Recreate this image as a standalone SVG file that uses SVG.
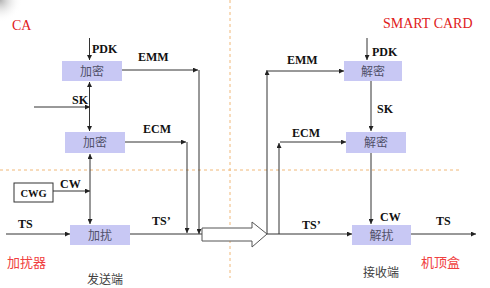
<svg xmlns="http://www.w3.org/2000/svg" width="490" height="288" viewBox="0 0 490 288">
<defs>
<marker id="ah" viewBox="0 0 10 10" refX="10" refY="5" markerWidth="6" markerHeight="5" markerUnits="userSpaceOnUse" orient="auto-start-reverse">
<path d="M0,0 L10,5 L0,10 z" fill="#222"/>
</marker>
<radialGradient id="corner" cx="0" cy="0" r="1">
<stop offset="0" stop-color="#b0b0b0"/>
<stop offset="1" stop-color="#ffffff" stop-opacity="0"/>
</radialGradient>
<style>
.box{fill:#c8c8f4;stroke:none}
.bt{font-family:"Noto Sans CJK SC",sans-serif;font-size:12px;fill:#505068;text-anchor:middle}
.lb{font-family:"Liberation Serif",serif;font-weight:bold;font-size:12px;fill:#111}
.red{font-family:"Liberation Serif",serif;font-size:14px;fill:#e02020}
.redc{font-family:"Noto Sans CJK SC",sans-serif;font-size:13px;fill:#f04040}
.gc{font-family:"Noto Sans CJK SC",sans-serif;font-size:12px;fill:#404040}
.ln{fill:none;stroke:#333;stroke-width:1}
.dash{fill:none;stroke:#f0b878;stroke-width:1;stroke-dasharray:3,3}
</style>
</defs>
<rect width="490" height="288" fill="#ffffff"/>
<rect x="0" y="0" width="22" height="22" fill="url(#corner)"/>
<g id="dividers">
<line class="dash" x1="230" y1="0" x2="230" y2="278"/>
<line class="dash" x1="0" y1="170" x2="460" y2="170"/>
</g>
<g id="titles">
<text class="red" x="12" y="30">CA</text>
<text class="red" x="383" y="28">SMART CARD</text>
<text class="redc" x="7" y="267">加扰器</text>
<text class="redc" x="421" y="267">机顶盒</text>
<text class="gc" x="87" y="284">发送端</text>
<text class="gc" x="363" y="277">接收端</text>
</g>
<g id="connectors">
<path class="ln" d="M89.5,38 V60" marker-end="url(#ah)"/>
<path class="ln" d="M89.5,82 V131" marker-start="url(#ah)" marker-end="url(#ah)"/>
<path class="ln" d="M34,107 H90" marker-end="url(#ah)"/>
<path class="ln" d="M90,154 V224" marker-start="url(#ah)" marker-end="url(#ah)"/>
<path class="ln" d="M53,191 H90" marker-end="url(#ah)"/>
<path class="ln" d="M6,234 H70" marker-end="url(#ah)"/>
<path class="ln" d="M130,234 H202"/>
<path class="ln" d="M122,70 H198" marker-end="url(#ah)"/>
<path class="ln" d="M199,70 V234" marker-end="url(#ah)"/>
<path class="ln" d="M125,142 H186" marker-end="url(#ah)"/>
<path class="ln" d="M187,142 V233" marker-end="url(#ah)"/>
<path class="ln" d="M267,234 V70" marker-end="url(#ah)"/>
<path class="ln" d="M268,71 H344" marker-end="url(#ah)"/>
<path class="ln" d="M279,234 V143" marker-end="url(#ah)"/>
<path class="ln" d="M280,142 H346" marker-end="url(#ah)"/>
<path class="ln" d="M267,234 H352" marker-end="url(#ah)"/>
<path class="ln" d="M367,38 V60" marker-end="url(#ah)"/>
<path class="ln" d="M371,81 V131" marker-end="url(#ah)"/>
<path class="ln" d="M371,153 V224" marker-end="url(#ah)"/>
<path class="ln" d="M411,234 H476" marker-end="url(#ah)"/>
<polygon points="202,228 252,228 252,222 267,234 252,247 252,241 202,241" fill="#ffffff" stroke="#555" stroke-width="1"/>
</g>
<g id="labels">
<text class="lb" x="92" y="53">PDK</text>
<text class="lb" x="138" y="61">EMM</text>
<text class="lb" x="72" y="104">SK</text>
<text class="lb" x="143" y="133">ECM</text>
<text class="lb" x="60" y="188">CW</text>
<text class="lb" x="18" y="228">TS</text>
<text class="lb" x="152" y="225">TS’</text>
<text class="lb" x="372" y="56">PDK</text>
<text class="lb" x="287" y="64">EMM</text>
<text class="lb" x="377" y="113">SK</text>
<text class="lb" x="292" y="137">ECM</text>
<text class="lb" x="380" y="221">CW</text>
<text class="lb" x="302" y="229">TS’</text>
<text class="lb" x="436" y="225">TS</text>
</g>
<g id="enc1"><rect class="box" x="62" y="61" width="60" height="20"/><text class="bt" x="92" y="75.5">加密</text></g>
<g id="enc2"><rect class="box" x="65" y="132" width="60" height="21"/><text class="bt" x="95" y="147">加密</text></g>
<g id="cwg"><rect x="14" y="183" width="39" height="19" fill="#fff" stroke="#333" stroke-width="1"/><text class="lb" x="33.5" y="196.5" text-anchor="middle" style="font-size:10.5px">CWG</text></g>
<g id="scr"><rect class="box" x="70" y="225" width="60" height="20"/><text class="bt" x="100" y="239.5">加扰</text></g>
<g id="dec1"><rect class="box" x="344" y="61" width="58" height="20"/><text class="bt" x="373" y="75.5">解密</text></g>
<g id="dec2"><rect class="box" x="346" y="132" width="60" height="21"/><text class="bt" x="376" y="147">解密</text></g>
<g id="descr"><rect class="box" x="352" y="225" width="59" height="20"/><text class="bt" x="381.5" y="239.5">解扰</text></g>
</svg>
